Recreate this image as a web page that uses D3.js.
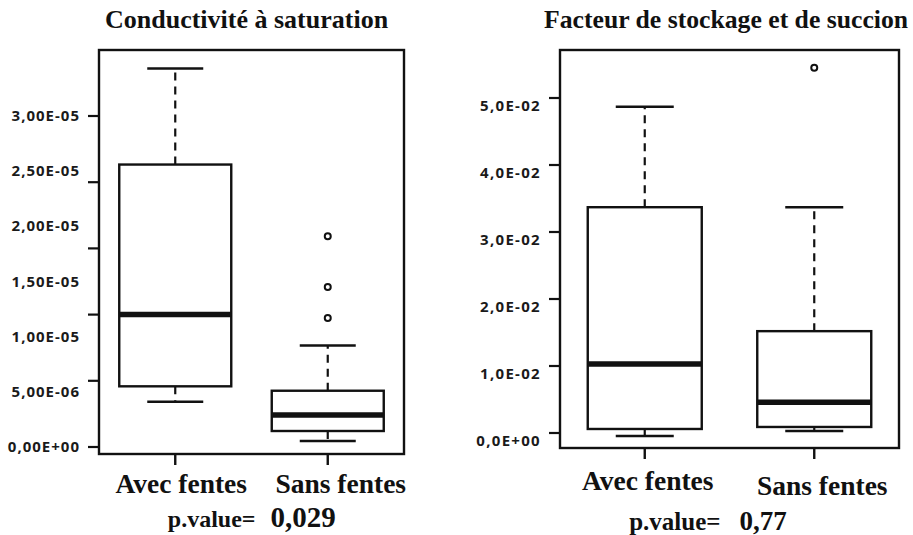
<!DOCTYPE html>
<html>
<head>
<meta charset="utf-8">
<script src="https://cdn.jsdelivr.net/npm/d3@7/dist/d3.min.js"></script>
<style>
  html, body { margin: 0; padding: 0; background: #fff; }
  svg { display: block; }
</style>
</head>
<body>
<svg id="chart" width="913" height="535"></svg>
<script>
// ---------- DATA ----------
const categories = ["Avec fentes", "Sans fentes"];

// [lower whisker, Q1, median, Q3, upper whisker]
const conductiviteAvec = [4.1e-6, 5.5e-6, 1.2e-5, 2.56e-5, 3.43e-5];
const conductiviteSans = [5.4e-7, 1.45e-6, 2.9e-6, 5.1e-6, 9.2e-6];
const conductiviteAvecOutliers = [];
const conductiviteSansOutliers = [1.17e-5, 1.45e-5, 1.91e-5];

const stockageAvec = [-0.00045, 0.0006, 0.0103, 0.0337, 0.0487];
const stockageSans = [0.0003, 0.0009, 0.0046, 0.0152, 0.0337];
const stockageAvecOutliers = [];
const stockageSansOutliers = [0.0545];

const conductiviteTickValues = [0, 5e-6, 1e-5, 1.5e-5, 2e-5, 2.5e-5, 3e-5];
const conductiviteTickLabels = ["0,00E+00", "5,00E-06", "1,00E-05", "1,50E-05", "2,00E-05", "2,50E-05", "3,00E-05"];
const stockageTickValues = [0, 0.01, 0.02, 0.03, 0.04, 0.05];
const stockageTickLabels = ["0,0E+00", "1,0E-02", "2,0E-02", "3,0E-02", "4,0E-02", "5,0E-02"];

const titles = ["Conductivité à saturation", "Facteur de stockage et de succion"];
const pLabel = "p.value=";
const pValues = ["0,029", "0,77"];

// ---------- DRAW ----------
const svg = d3.select("#chart");
const serif = "'Liberation Serif', 'Times New Roman', serif";
const sans = "'Open Sans', 'Noto Sans', sans-serif";
const ink = "#111";

function panel(cfg) {
  const g = svg.append("g");
  const { left, right, top, bottom } = cfg.frame;

  const x = d3.scalePoint().domain(categories).range([left, right]).padding(0.5);
  const y = d3.scaleLinear().domain(cfg.domain).range(cfg.yRange);

  // title
  g.append("text")
    .attr("x", cfg.titleX).attr("y", 28)
    .attr("font-family", serif).attr("font-weight", "bold")
    .attr("font-size", cfg.titleSize).attr("fill", ink)
    .text(cfg.title);

  // boxes
  cfg.series.forEach((s, i) => {
    const cx = x(categories[i]);
    const [lo, q1, med, q3, hi] = s.stats;
    const bw = cfg.boxHalf, cw = cfg.capHalf;
    // whiskers (dashed)
    g.append("line").attr("x1", cx).attr("x2", cx)
      .attr("y1", y(q3)).attr("y2", y(hi))
      .attr("stroke", ink).attr("stroke-width", 2.2).attr("stroke-dasharray", "8,6");
    g.append("line").attr("x1", cx).attr("x2", cx)
      .attr("y1", y(q1)).attr("y2", y(lo))
      .attr("stroke", ink).attr("stroke-width", 2.2).attr("stroke-dasharray", "8,6");
    // caps
    [lo, hi].forEach(v => {
      g.append("line").attr("x1", cx - cw).attr("x2", cx + cw)
        .attr("y1", y(v)).attr("y2", y(v))
        .attr("stroke", ink).attr("stroke-width", 2.4);
    });
    // box
    g.append("rect").attr("x", cx - bw).attr("width", 2 * bw)
      .attr("y", y(q3)).attr("height", y(q1) - y(q3))
      .attr("fill", "#fff").attr("stroke", ink).attr("stroke-width", 2.4);
    // median
    g.append("line").attr("x1", cx - bw).attr("x2", cx + bw)
      .attr("y1", y(med)).attr("y2", y(med))
      .attr("stroke", ink).attr("stroke-width", 5.5);
    // outliers
    s.outliers.forEach(v => {
      g.append("circle").attr("cx", cx).attr("cy", y(v)).attr("r", 3)
        .attr("fill", "none").attr("stroke", ink).attr("stroke-width", 2);
    });
  });

  // frame
  g.append("rect").attr("x", left).attr("y", top)
    .attr("width", right - left).attr("height", bottom - top)
    .attr("fill", "none").attr("stroke", ink).attr("stroke-width", 2.4);

  // y tick marks
  cfg.tickMarks.forEach(v => {
    g.append("line").attr("x1", left - 11).attr("x2", left)
      .attr("y1", y(v)).attr("y2", y(v))
      .attr("stroke", ink).attr("stroke-width", 2.2);
  });
  // y tick labels
  cfg.tickValues.forEach((v, i) => {
    g.append("text")
      .attr("x", cfg.labelRight).attr("y", y(v))
      .attr("dy", cfg.labelDy).attr("text-anchor", "end")
      .attr("font-family", sans).attr("font-weight", "bold")
      .attr("font-size", 15).attr("letter-spacing", cfg.labelSpacing)
      .attr("fill", "#1a1a1a")
      .text(cfg.tickLabels[i]);
  });

  // x ticks and category labels
  categories.forEach((c, i) => {
    const cx = x(c);
    g.append("line").attr("x1", cx).attr("x2", cx)
      .attr("y1", bottom).attr("y2", bottom + 11)
      .attr("stroke", ink).attr("stroke-width", 2.4);
    g.append("text")
      .attr("x", cx + cfg.catShift[i]).attr("y", cfg.catY[i])
      .attr("text-anchor", "middle")
      .attr("font-family", serif).attr("font-weight", "bold")
      .attr("font-size", 27.5).attr("fill", ink)
      .text(c);
  });

  // p-value
  const mid = (left + right) / 2;
  g.append("text")
    .attr("x", mid + cfg.pShift).attr("y", cfg.pY)
    .attr("text-anchor", "end")
    .attr("font-family", serif).attr("font-weight", "bold")
    .attr("font-size", cfg.pLabelSize).attr("fill", ink)
    .text(pLabel);
  g.append("text")
    .attr("x", mid + cfg.pShift + cfg.pGap).attr("y", cfg.pY)
    .attr("font-family", serif).attr("font-weight", "bold")
    .attr("font-size", cfg.pValueSize).attr("fill", ink)
    .text(cfg.pValue);
}

panel({
  title: titles[0], titleX: 105, titleSize: 26,
  frame: { left: 99, right: 404, top: 50, bottom: 454 },
  domain: [0, 3e-5], yRange: [447, 116],
  tickMarks: d3.range(6).map(i => i * 6e-6),
  tickValues: conductiviteTickValues, tickLabels: conductiviteTickLabels,
  labelRight: 80, labelDy: 5, labelSpacing: 1,
  series: [
    { stats: conductiviteAvec, outliers: conductiviteAvecOutliers },
    { stats: conductiviteSans, outliers: conductiviteSansOutliers }
  ],
  boxHalf: 56, capHalf: 28,
  catShift: [6, 13], catY: [493, 493],
  pShift: 4, pGap: 15, pY: 527, pLabelSize: 24, pValueSize: 29, pValue: pValues[0]
});

panel({
  title: titles[1], titleX: 544, titleSize: 25.7,
  frame: { left: 560, right: 899, top: 50, bottom: 448 },
  domain: [0, 0.05], yRange: [433, 98],
  tickMarks: stockageTickValues,
  tickValues: stockageTickValues, tickLabels: stockageTickLabels,
  labelRight: 541, labelDy: 13, labelSpacing: 1.3,
  series: [
    { stats: stockageAvec, outliers: stockageAvecOutliers },
    { stats: stockageSans, outliers: stockageSansOutliers }
  ],
  boxHalf: 57, capHalf: 29,
  catShift: [3, 8], catY: [490, 495],
  pShift: -9, pGap: 19, pY: 530, pLabelSize: 25, pValueSize: 27, pValue: pValues[1]
});
</script>
</body>
</html>
